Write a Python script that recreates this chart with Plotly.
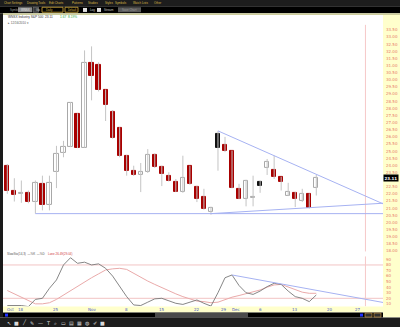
import plotly.graph_objects as go

# ---------------- data ----------------
idx = list(range(1, 46))
opens  = [23.98, 22.22, 21.97, 22.06, 21.43, 22.71, 21.20, 23.56, 24.91, 25.33,
          27.63, 25.26, 31.18, 31.06, 29.27, 27.74, 26.65, 24.68, 23.63, 23.33,
          23.52, 24.73, 23.87, 23.28, 22.82, 22.13, 23.94, 22.48, 21.78, 20.74,
          26.19, 25.42, 25.00, 22.36, 21.66, 21.71, 22.82, 23.80, 23.68, 23.17,
          21.89, 22.08, 21.54, 22.01, 22.41]
highs  = [24.10, 23.10, 22.94, 22.24, 22.94, 23.28, 23.28, 25.37, 25.72, 28.44,
          27.65, 32.06, 32.34, 31.22, 29.32, 27.88, 26.68, 24.73, 23.98, 24.17,
          25.14, 24.84, 23.98, 23.52, 23.05, 24.68, 23.98, 22.57, 22.36, 21.10,
          26.42, 26.00, 25.04, 22.71, 22.99, 23.28, 22.94, 24.45, 24.68, 23.21,
          22.78, 22.15, 22.36, 22.04, 23.33]
lows   = [22.01, 21.47, 21.38, 21.35, 20.62, 20.85, 20.85, 22.41, 24.57, 25.28,
          25.21, 25.25, 28.56, 29.18, 27.11, 25.87, 24.57, 23.28, 23.26, 22.13,
          23.47, 23.82, 22.55, 22.87, 22.13, 22.08, 22.64, 21.43, 20.90, 20.55,
          23.63, 24.93, 22.39, 21.63, 21.13, 21.13, 22.08, 23.33, 23.05, 22.24,
          21.85, 21.08, 21.43, 20.97, 21.89]
closes = [22.24, 21.94, 22.04, 21.43, 22.75, 21.20, 22.78, 24.84, 25.33, 28.40,
          25.26, 31.18, 30.25, 29.27, 28.21, 25.93, 24.68, 23.63, 23.33, 23.52,
          24.73, 23.87, 23.40, 22.94, 22.17, 23.10, 22.71, 21.66, 20.97, 21.01,
          25.26, 25.00, 22.43, 21.66, 22.94, 21.78, 22.59, 24.22, 23.17, 22.82,
          22.13, 21.66, 21.99, 21.01, 23.11]
styles = ["red", "red", "hollow", "red", "hollow", "red", "hollow", "hollow", "hollow", "hollow",
          "red", "hollow", "red", "red", "red", "red", "red", "red", "red", "hollow",
          "hollow", "red", "red", "red", "red", "hollow", "red", "red", "red", "hollow",
          "black", "red", "red", "red", "hollow", "hollow", "black", "hollow", "red", "red",
          "hollow", "red", "hollow", "red", "hollow"]

stoch_k = [7, 7, 7, 5, 18, 20, 38, 53, 80, 93,
           83, 85, 80, 82, 74, 60, 42, 23, 8, 7,
           13, 19, 20, 15, 11, 9, 13, 17, 11, 6,
           30, 57, 62, 43, 30, 27, 33, 41, 47, 45,
           33, 23, 20, 14, 26]
stoch_d = [34, 28, 22, 15, 10, 10, 12, 18, 26, 33,
           42, 49, 57, 64, 71, 73, 74, 72, 65, 57,
           51, 45, 39, 34, 28, 23, 19, 15, 14, 12,
           13, 18, 22, 25, 28, 32, 35, 40, 44, 45,
           40, 35, 31, 29, 29]

price_tick_vals = [18.0, 18.5, 19.0, 19.5, 20.0, 20.5, 21.0, 21.5, 22.0, 22.5, 23.5,
                   24.0, 24.5, 25.0, 25.5, 26.0, 26.5, 27.0, 27.5, 28.0, 28.5, 29.0, 29.5,
                   30.0, 30.5, 31.0, 31.5, 32.0, 32.5, 33.0, 33.5]
stoch_tick_vals = [10, 20, 30, 40, 50, 60, 70, 80, 90]

date_tick_pos = [1.4, 3, 8, 13, 18, 23, 28, 31.8, 33.6, 37, 42, 47, 51]
date_tick_txt = ["Oct", "18", "25", "Nov", "8", "15", "22", "29", "Dec", "6", "13", "20", "27"]

# drawn trend lines (index, value)
support_x, support_y = [5, 54.5], [20.62, 20.62]
rise_x, rise_y = [30, 54.5], [20.62, 21.35]
fall_x, fall_y = [31, 54.5], [26.42, 21.31]
stoch_tl_x, stoch_tl_y = [33, 54.5], [62, 12.5]
marker_day = 52

title_txt = "WNSX Industry S&P 500  23.11"
title_chg = "1.67  8.19%"
date_txt = "▸ 12/16/2010 ▾"
stoch_title = "SlowSto(14,3)  —%K  —%D"
stoch_title_red = "Lane 26.49(29.04)"
menu_items = ["Chart Settings", "Drawing Tools", "Edit Charts", "Patterns", "Studies",
              "Styles", "Symbols", "Watch Lists", "Other"]
menu_x = [1.7, 25, 46.7, 70, 86, 102.7, 113, 130.7, 151.7]

# ---------------- helpers ----------------
W, H = 400, 329
def X(p): return p / W
def Y(p): return 1 - p / H

RED = "#a80000"
fills = {"red": RED, "hollow": "#ffffff", "black": "#111111"}
lines = {"red": RED, "hollow": "#a8a8a8", "black": "#111111"}

fig = go.Figure()

# wicks
wx, wy = [], []
for i, h, l in zip(idx, highs, lows):
    wx += [i, i, None]
    wy += [l, h, None]
fig.add_trace(go.Scatter(x=wx, y=wy, mode="lines", line=dict(color="#c4c4c4", width=1),
                         hoverinfo="skip", showlegend=False, xaxis="x", yaxis="y"))

# bodies
base = [min(o, c) for o, c in zip(opens, closes)]
hgt = [max(abs(c - o), 0.04) for o, c in zip(opens, closes)]
fig.add_trace(go.Bar(x=idx, y=hgt, base=base, width=0.6,
                     marker=dict(color=[fills[s] for s in styles],
                                 line=dict(color=[lines[s] for s in styles], width=1)),
                     showlegend=False, xaxis="x", yaxis="y"))

tl = dict(color="#a6b2f2", width=1)
for xs, ys in [(support_x, support_y), (rise_x, rise_y), (fall_x, fall_y)]:
    fig.add_trace(go.Scatter(x=xs, y=ys, mode="lines", line=tl, showlegend=False,
                             hoverinfo="skip", xaxis="x", yaxis="y"))

# stochastics
fig.add_trace(go.Scatter(x=idx, y=stoch_d, mode="lines", line=dict(color="#eaaaaa", width=1),
                         showlegend=False, xaxis="x2", yaxis="y2"))
fig.add_trace(go.Scatter(x=idx, y=stoch_k, mode="lines", line=dict(color="#787878", width=0.9),
                         showlegend=False, xaxis="x2", yaxis="y2"))
fig.add_trace(go.Scatter(x=stoch_tl_x, y=stoch_tl_y, mode="lines", line=tl, showlegend=False,
                         xaxis="x2", yaxis="y2"))

xr = [0.387, 54.5]
dom_x = [X(3), X(383)]
fig.update_layout(
    width=W, height=H, margin=dict(l=0, r=0, t=0, b=0),
    paper_bgcolor="#ffffff", plot_bgcolor="rgba(0,0,0,0)",
    bargap=0, showlegend=False,
    font=dict(family="DejaVu Sans", size=4),
    xaxis=dict(domain=dom_x, range=xr, showgrid=False, zeroline=False, showticklabels=False,
               anchor="y", fixedrange=True),
    xaxis2=dict(domain=dom_x, range=xr, showgrid=False, zeroline=False, showticklabels=False,
                anchor="y2", matches="x", fixedrange=True),
    yaxis=dict(domain=[Y(253), Y(15)], range=[17.97, 34.545], side="right", anchor="x",
               tickvals=price_tick_vals, ticktext=["%.2f" % v for v in price_tick_vals],
               tickfont=dict(size=4, color="#e87a6a", family="DejaVu Sans"),
               showgrid=False, zeroline=False, ticks="", ticklabelstandoff=2),
    yaxis2=dict(domain=[Y(308), Y(255.4)], range=[5.9, 100], side="right", anchor="x2",
                tickvals=stoch_tick_vals, ticktext=[str(v) for v in stoch_tick_vals],
                tickfont=dict(size=4, color="#e87a6a", family="DejaVu Sans"),
                showgrid=False, zeroline=False, ticks="", ticklabelstandoff=2),
)

shapes = []
def rect(x0, y0, x1, y1, color, layer="below", line=None):
    shapes.append(dict(type="rect", xref="paper", yref="paper", x0=X(x0), x1=X(x1),
                       y0=Y(y1), y1=Y(y0), fillcolor=color,
                       line=dict(width=0) if line is None else line, layer=layer))

rect(0, 0, 400, 6.2, "#1d1d1d")
rect(0, 6.2, 400, 13.4, "#000000")
rect(0, 13.4, 400, 15, "#cdcd9c")
rect(0, 13.4, 3, 319.5, "#1a1a1a")
rect(383, 15, 400, 319.5, "#ffffcc")
rect(3, 308.3, 383, 314.5, "#ffffcc")
rect(3, 314.5, 383, 319.5, "#000000")
rect(155, 315, 248, 319, "#4a4a4a")
rect(0, 319.5, 400, 329, "#1d1d1d")
# toolbar widgets
rect(18, 7.3, 32, 12.3, "#8c8c8c")
rect(33, 7.3, 38.5, 12.3, "#3a3a3a", line=dict(color="#8a8a8a", width=0.6))
rect(42, 7.3, 63, 12.3, "#000000", line=dict(color="#d8b040", width=0.8))
rect(65, 7.3, 78, 12.3, "#000000", line=dict(color="#d8b040", width=0.8))
rect(83, 8, 87, 12, "#e0e0e0")
rect(97, 8, 101, 12, "#e0e0e0")
rect(118, 7.3, 141, 12.3, "#5a5a5a")
rect(5, 315.5, 8, 318.5, "#2030ff")
rect(360, 315.5, 363, 318.5, "#2030ff")
rect(365, 315, 372, 319, "#303030", line=dict(color="#d8a040", width=0.6))
rect(374, 315, 381, 319, "#303030", line=dict(color="#d8a040", width=0.6))
# grid / marker lines
for yv in [80, 20]:
    shapes.append(dict(type="line", xref="x2 domain", yref="y2", x0=0, x1=1, y0=yv, y1=yv,
                       line=dict(color="#f2c4c4", width=1), layer="below"))
shapes.append(dict(type="line", xref="x", yref="paper", x0=marker_day, x1=marker_day,
                   y0=Y(253), y1=Y(25), line=dict(color="#f6c8c8", width=1), layer="below"))
shapes.append(dict(type="line", xref="x", yref="paper", x0=marker_day, x1=marker_day,
                   y0=Y(308), y1=Y(258), line=dict(color="#f6c8c8", width=1), layer="below"))
fig.update_layout(shapes=shapes)

ann = []
def text(x, y, s, color, size=4, xanchor="left", xref="paper", yref="paper",
         family="DejaVu Sans", **kw):
    ann.append(dict(x=x if xref != "paper" else X(x), y=Y(y) if yref == "paper" else y,
                    xref=xref, yref=yref, text=s, showarrow=False, xanchor=xanchor,
                    yanchor="middle", font=dict(size=size, color=color, family=family), **kw))

for s, xx in zip(menu_items, menu_x):
    text(xx, 3.2, s, "#d9b846", size=2.9, family="Liberation Sans")
text(8, 9.8, "Symbol", "#9a9a9a", size=2.9, family="Liberation Sans")
text(19, 9.8, "WNSX", "#e6e6e6", size=2.9, family="Liberation Sans")
text(34, 9.8, "Go", "#d0d0d0", size=2.9, family="Liberation Sans")
text(44, 9.8, "Daily", "#d9b846", size=2.9, family="Liberation Sans")
text(66, 9.8, "Default", "#d9b846", size=2.6, family="Liberation Sans")
text(88, 9.8, "Log", "#c8c8c8", size=2.9, family="Liberation Sans")
text(102, 9.8, "Stream", "#c8c8c8", size=2.9, family="Liberation Sans")
text(120, 9.8, "Save Chart", "#9a9a9a", size=2.9, family="Liberation Sans")

text(6, 17.6, title_txt, "#333333", size=3.2, family="Liberation Sans")
text(58, 17.6, title_chg, "#2aa83a", size=3.2, family="Liberation Sans")
text(6, 23.6, date_txt, "#555555", size=3.0, family="Liberation Sans")
text(5, 255.8, stoch_title, "#555555", size=3.0, family="Liberation Sans")
text(46, 255.8, stoch_title_red, "#d04040", size=3.0, family="Liberation Sans")

for p, s in zip(date_tick_pos, date_tick_txt):
    text(p, 311.4, s, "#4a5ac8", size=4.0, xanchor="center", xref="x2")

# last price label
ann.append(dict(x=X(383.3), y=closes[-1], xref="paper", yref="y", text="<b>%.2f</b>" % closes[-1],
                showarrow=False, xanchor="left", yanchor="middle", bgcolor="#000000",
                font=dict(size=4, color="#ffffff", family="DejaVu Sans"), borderpad=0.5))

icons = ["↖", "■", "╱", "✎", "—", "T", "⌕", "▭", "▤", "▦", "◍", "✐", "■"]
for k, s in enumerate(icons):
    text(9 + k * 7.8, 324.5, s, "#d8d8d8", size=5, xanchor="center")

fig.update_layout(annotations=ann)
fig.write_html("out.html")
